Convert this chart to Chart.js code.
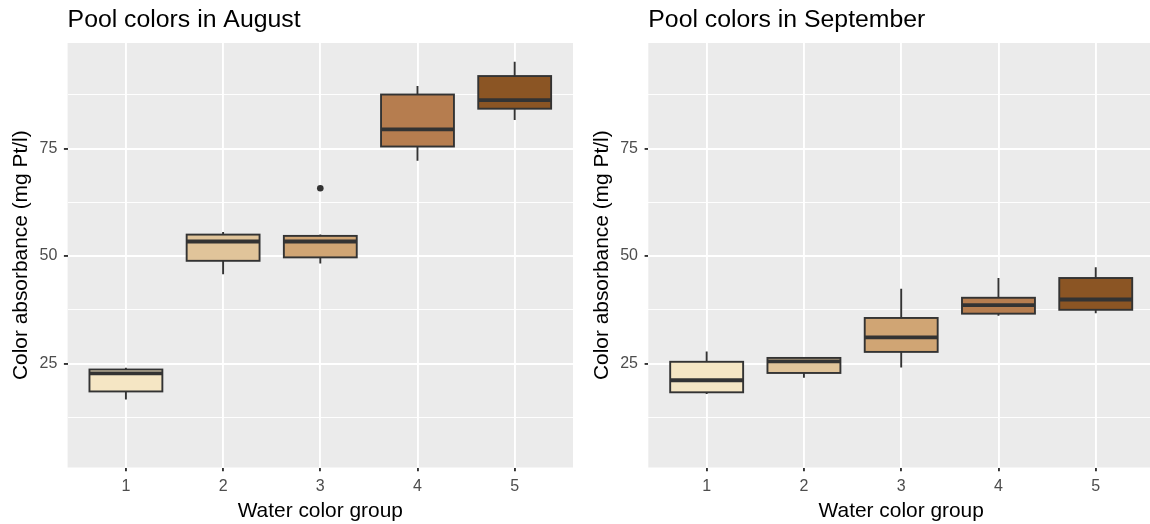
<!DOCTYPE html>
<html>
<head>
<meta charset="utf-8">
<title>Pool colors</title>
<script src="https://cdn.jsdelivr.net/npm/chart.js@4.4.1/dist/chart.umd.min.js"></script>
<style>
  html, body { margin: 0; padding: 0; background: #ffffff; }
  #wrap { position: relative; width: 1150px; height: 524px; overflow: hidden; background: #ffffff; }
  canvas { position: absolute; top: 0; }
  #aug { left: 0; }
  #sep { left: 580px; }
</style>
</head>
<body>
<div id="wrap">
  <canvas id="aug" width="580" height="524"></canvas>
  <canvas id="sep" width="580" height="524"></canvas>
</div>
<script>
// Water colour groups and their fills (light to dark)
const groups = [1, 2, 3, 4, 5];
const groupTickLabels = ['1', '2', '3', '4', '5'];
const groupFills = ['#F5E6C4', '#E0C49A', '#D0A574', '#B67D4F', '#8B5524'];

// y ticks: majors carry labels, minors only draw a thin grid line
const yTickValues = [12.5, 25, 37.5, 50, 62.5, 75, 87.5];
const yTickLabels = ['', '25', '', '50', '', '75', ''];

// August five-number summaries per group (mg Pt/l)
const augLow    = [16.6, 45.8, 48.3, 72.2, 81.7];
const augLower  = [18.5, 48.9, 49.7, 75.5, 84.3];
const augMedian = [22.7, 53.4, 53.4, 79.5, 86.3];
const augUpper  = [23.6, 55.0, 54.7, 87.6, 91.9];
const augHigh   = [24.0, 55.6, 55.0, 89.6, 95.2];
const augOutliers = [{ x: 3, y: 65.8 }];

// September five-number summaries per group (mg Pt/l)
const sepLow    = [17.9, 21.7, 24.1, 36.1, 36.7];
const sepLower  = [18.3, 22.8, 27.7, 36.6, 37.5];
const sepMedian = [21.1, 25.5, 31.1, 38.6, 39.9];
const sepUpper  = [25.4, 26.3, 35.6, 40.3, 44.9];
const sepHigh   = [27.8, 26.4, 42.4, 44.9, 47.4];
const sepOutliers = [];

const FONT = "'Liberation Sans', Arial, Helvetica, sans-serif";
const INK = '#333333';
const LINE = 1.9;

// grey panel behind the grid
const panelBackground = {
  id: 'panelBackground',
  beforeDraw(chart) {
    const { ctx, chartArea: a } = chart;
    ctx.save();
    ctx.fillStyle = '#EBEBEB';
    ctx.fillRect(a.left, a.top, a.right - a.left, a.bottom - a.top);
    ctx.restore();
  }
};

// whiskers under the boxes, outlines and medians over them
function boxMarks(low, lower, median, upper, high) {
  return {
    id: 'boxMarks',
    beforeDatasetsDraw(chart) {
      const { ctx } = chart;
      const y = chart.scales.y;
      const meta = chart.getDatasetMeta(0);
      ctx.save();
      ctx.strokeStyle = INK;
      ctx.lineWidth = LINE;
      ctx.lineCap = 'butt';
      meta.data.forEach((bar, i) => {
        const x = bar.x;
        ctx.beginPath();
        ctx.moveTo(x, y.getPixelForValue(upper[i]));
        ctx.lineTo(x, y.getPixelForValue(high[i]));
        ctx.moveTo(x, y.getPixelForValue(lower[i]));
        ctx.lineTo(x, y.getPixelForValue(low[i]));
        ctx.stroke();
      });
      ctx.restore();
    },
    afterDatasetsDraw(chart) {
      const { ctx } = chart;
      const y = chart.scales.y;
      const meta = chart.getDatasetMeta(0);
      ctx.save();
      ctx.strokeStyle = INK;
      ctx.lineJoin = 'miter';
      ctx.lineCap = 'butt';
      meta.data.forEach((bar, i) => {
        const x0 = bar.x - bar.width / 2;
        const x1 = bar.x + bar.width / 2;
        const top = y.getPixelForValue(upper[i]);
        const bottom = y.getPixelForValue(lower[i]);
        ctx.lineWidth = LINE;
        ctx.strokeRect(x0, top, x1 - x0, bottom - top);
        const m = y.getPixelForValue(median[i]);
        ctx.lineWidth = LINE * 2;
        ctx.beginPath();
        ctx.moveTo(x0, m);
        ctx.lineTo(x1, m);
        ctx.stroke();
      });
      ctx.restore();
    }
  };
}

function makePanel(id, titleText, low, lower, median, upper, high, outliers, layout) {
  const isMajor = c => c.tick && c.tick.value % 25 === 0;
  return new Chart(document.getElementById(id), {
    type: 'bar',
    data: {
      datasets: [
        {
          type: 'bar',
          data: groups.map((g, i) => ({ x: g, y: [lower[i], upper[i]] })),
          backgroundColor: groupFills,
          borderWidth: 0,
          barPercentage: 0.75,
          categoryPercentage: 1
        },
        {
          type: 'scatter',
          data: outliers,
          pointRadius: 3.3,
          pointHoverRadius: 3.3,
          pointBackgroundColor: INK,
          pointBorderWidth: 0
        }
      ]
    },
    options: {
      responsive: false,
      animation: false,
      events: [],
      layout: { padding: { left: 0, right: layout.padRight, top: 0, bottom: 0 } },
      plugins: {
        legend: { display: false },
        tooltip: { enabled: false },
        title: {
          display: true,
          text: titleText,
          align: 'start',
          fullSize: false,
          color: '#000000',
          font: { family: FONT, size: 24.8, weight: 'normal', lineHeight: 1.2 },
          padding: { top: 5, bottom: 8.2 }
        }
      },
      scales: {
        x: {
          type: 'linear',
          min: 0.4,
          max: 5.6,
          offset: false,
          afterBuildTicks: s => { s.ticks = groups.map(v => ({ value: v })); },
          afterFit: s => { s.height = 56.5; },
          border: { display: false },
          grid: { offset: false, color: '#FFFFFF', lineWidth: LINE, tickColor: INK, tickLength: 3.7, tickWidth: LINE },
          ticks: {
            autoSkip: false, maxRotation: 0, padding: 5.4, color: '#4D4D4D',
            font: { family: FONT, size: 16 },
            callback: (v, i) => groupTickLabels[i]
          },
          title: {
            display: true, text: 'Water color group', color: '#000000',
            font: { family: FONT, size: 20.9 }, padding: { top: 0, bottom: 0.7 }
          }
        },
        y: {
          type: 'linear',
          min: 0.8,
          max: 99.6,
          afterBuildTicks: s => { s.ticks = yTickValues.map(v => ({ value: v })); },
          afterFit: s => { s.width = layout.yWidth; },
          border: { display: false },
          grid: {
            color: '#FFFFFF',
            lineWidth: c => isMajor(c) ? LINE : LINE / 2,
            tickColor: c => isMajor(c) ? INK : 'rgba(0,0,0,0)',
            tickLength: 3.7,
            tickWidth: LINE
          },
          ticks: {
            autoSkip: false, padding: 6.6, color: '#4D4D4D',
            font: { family: FONT, size: 16 },
            callback: (v, i) => yTickLabels[i]
          },
          title: {
            display: true, text: 'Color absorbance (mg Pt/l)', color: '#000000',
            font: { family: FONT, size: 20.9 }, padding: { top: layout.yTitlePad, bottom: 0 }
          }
        }
      }
    },
    plugins: [panelBackground, boxMarks(low, lower, median, upper, high)]
  });
}

makePanel('aug', 'Pool colors in August', augLow, augLower, augMedian, augUpper, augHigh, augOutliers,
  { yWidth: 67.6, padRight: 7, yTitlePad: 8.2 });
makePanel('sep', 'Pool colors in September', sepLow, sepLower, sepMedian, sepUpper, sepHigh, sepOutliers,
  { yWidth: 68.3, padRight: 5.9, yTitlePad: 9.8 });
</script>
</body>
</html>
